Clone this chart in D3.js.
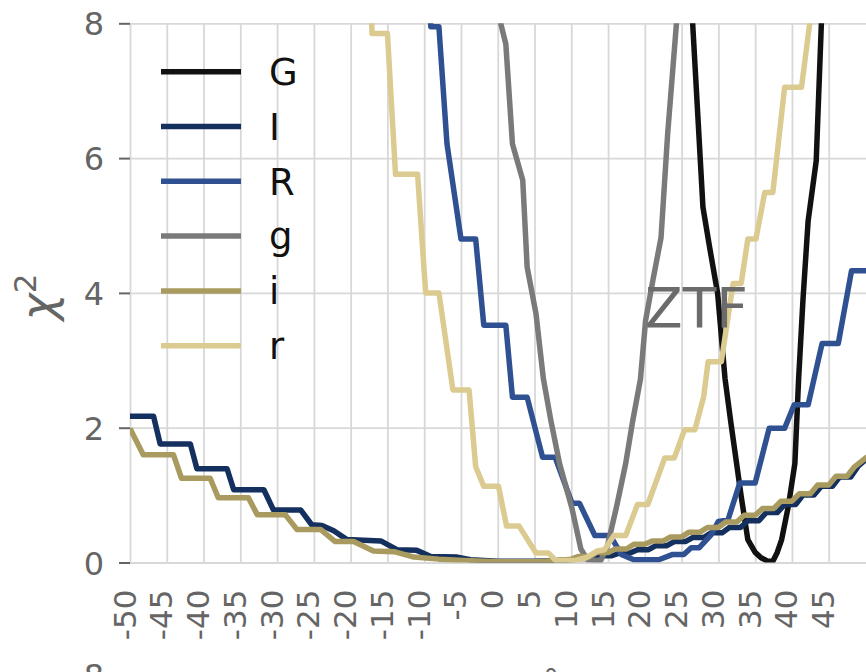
<!DOCTYPE html>
<html>
<head>
<meta charset="utf-8">
<script src="https://cdn.jsdelivr.net/npm/d3@7"></script>
<style>
  body { margin: 0; background: #fff; }
  svg text { font-family: 'DejaVu Sans', sans-serif; }
</style>
</head>
<body>
<div id="chart"></div>
<script>
var bands = ['G', 'I', 'R', 'g', 'i', 'r'],
    colors = ['#111111', '#14305e', '#2f5191', '#7a7a7a', '#a99b5f', '#dccb91'],
    xTicks = [-50, -45, -40, -35, -30, -25, -20, -15, -10, -5, 0, 5, 10, 15, 20, 25, 30, 35, 40, 45],
    yTicks = [0, 2, 4, 6, 8];

// chi^2 curves (x, chi2) per band
var x_G = [26.0, 26.5, 27.9, 28.8, 29.9, 30.9, 31.7, 33.1, 34.0, 35.0, 35.8, 36.7, 37.4, 38.0, 38.6, 39.5, 40.4, 40.9, 41.5, 42.2, 43.3, 44.0, 44.3],
    chi_G = [9.0, 8.0, 5.27, 4.68, 3.99, 2.73, 2.07, 0.98, 0.34, 0.15, 0.07, 0.02, 0.02, 0.15, 0.34, 0.83, 1.47, 2.71, 3.9, 5.07, 5.96, 8.0, 8.9];

var x_I = [-50, -46.8, -45.9, -41.8, -40.9, -36.8, -35.9, -31.8, -30.5, -26.8, -25.3, -23.9, -22.3, -20.5, -15.9, -13.7, -11.0, -9.1, -5.5, -3.7, 0, 5, 8, 10, 11.5, 13, 14, 15.5, 16.5, 18, 19, 20.5, 21.5, 23, 24, 25.5, 26.5, 28, 29, 30.5, 31.5, 33, 34, 35.5, 36.5, 38, 39, 40.5, 41.5, 43, 44, 45.5, 46.5, 48, 49, 50.3, 51],
    chi_I = [2.17, 2.17, 1.76, 1.76, 1.39, 1.39, 1.08, 1.08, 0.78, 0.78, 0.56, 0.55, 0.47, 0.34, 0.32, 0.19, 0.18, 0.09, 0.08, 0.04, 0.02, 0.02, 0.03, 0.04, 0.06, 0.06, 0.10, 0.10, 0.14, 0.14, 0.19, 0.19, 0.25, 0.25, 0.31, 0.31, 0.37, 0.37, 0.44, 0.44, 0.52, 0.52, 0.62, 0.62, 0.74, 0.74, 0.86, 0.86, 1.00, 1.00, 1.13, 1.13, 1.27, 1.27, 1.43, 1.55, 1.62];

var x_R = [-9.6, -9.1, -8.0, -6.9, -5.0, -3.0, -1.9, 1.1, 2.0, 4.0, 6.1, 7.8, 10.1, 11.1, 13.2, 15.3, 16.8, 18.5, 21.9, 23.8, 25.3, 26.3, 27.4, 29.0, 30.0, 31.3, 32.9, 35.0, 36.9, 39.0, 40.3, 42.2, 44.1, 46.3, 48.1, 51],
    chi_R = [9.5, 7.95, 7.95, 6.21, 4.80, 4.80, 3.52, 3.52, 2.45, 2.45, 1.56, 1.56, 0.88, 0.88, 0.40, 0.40, 0.12, 0.04, 0.04, 0.12, 0.12, 0.22, 0.22, 0.41, 0.61, 0.63, 1.18, 1.18, 1.99, 1.99, 2.34, 2.34, 3.25, 3.25, 4.33, 4.33];

var x_g = [-0.2, 0.4, 1.1, 2.0, 3.4, 4.0, 5.2, 6.2, 7.2, 8.4, 10.1, 11.3, 12.2, 14.0, 14.9, 16.2, 17.4, 18.3, 19.4, 20.1, 21.1, 22.2, 23.1, 24.3, 24.7],
    chi_g = [9.5, 8.0, 7.69, 6.21, 5.67, 4.38, 3.69, 2.73, 2.12, 1.47, 0.80, 0.20, 0.04, 0.03, 0.24, 0.85, 1.47, 2.07, 2.72, 3.59, 4.19, 4.82, 6.36, 8.0, 8.7];

var x_i = [-50, -48.2, -44.1, -43.0, -39.1, -38.0, -33.9, -32.7, -28.9, -27.3, -24.1, -22.1, -19.6, -16.9, -14.1, -11.4, -8, -4.6, 0, 5, 8, 10, 11, 12.5, 13.5, 15, 16, 17.5, 18.5, 20, 21, 22.5, 23.5, 25, 26, 27.5, 28.5, 30, 31, 32.5, 33.5, 35, 36, 37.5, 38.5, 40, 41, 42.5, 43.5, 45, 46, 47.5, 48.5, 50, 51],
    chi_i = [1.99, 1.60, 1.60, 1.25, 1.25, 0.96, 0.96, 0.71, 0.71, 0.49, 0.49, 0.31, 0.31, 0.17, 0.16, 0.08, 0.05, 0.03, 0.01, 0.01, 0.03, 0.05, 0.09, 0.09, 0.15, 0.15, 0.20, 0.20, 0.27, 0.27, 0.32, 0.32, 0.38, 0.38, 0.45, 0.45, 0.52, 0.52, 0.60, 0.60, 0.70, 0.70, 0.80, 0.80, 0.91, 0.91, 1.02, 1.02, 1.15, 1.15, 1.28, 1.28, 1.42, 1.55, 1.62];

var x_r = [-17.6, -17.1, -15.0, -13.9, -10.9, -9.8, -8.0, -6.1, -3.9, -3.0, -1.9, 0.1, 1.2, 2.9, 5.2, 6.9, 7.9, 10.6, 12.0, 13.5, 14.5, 15.8, 17.4, 19.0, 20.4, 22.7, 24.0, 25.4, 26.8, 28.0, 28.6, 30.4, 32.0, 33.1, 34.0, 35.1, 36.3, 37.4, 39.0, 41.3, 42.4, 42.8],
    chi_r = [9.5, 7.85, 7.85, 5.76, 5.76, 4.00, 4.00, 2.56, 2.56, 1.42, 1.13, 1.13, 0.54, 0.54, 0.14, 0.14, 0.03, 0.03, 0.07, 0.17, 0.19, 0.40, 0.40, 0.86, 0.86, 1.55, 1.55, 1.97, 1.97, 2.46, 2.98, 2.98, 4.14, 4.14, 4.80, 4.80, 5.49, 5.49, 7.05, 7.05, 7.99, 8.6];

var curves = [
  d3.zip(x_G, chi_G), d3.zip(x_I, chi_I), d3.zip(x_R, chi_R),
  d3.zip(x_g, chi_g), d3.zip(x_i, chi_i), d3.zip(x_r, chi_r)
];

var width = 866,
    height = 672,
    plotLeft = 130,
    plotTop = 23.3,
    plotBottom = 562.5,
    tickGrey = '#656565',
    gridGrey = '#d8d8d8',
    fontName = 'DejaVu Sans',
    svg, x, y, line;

x = d3.scaleLinear().domain([-50, 50]).range([plotLeft, 865.5]);
y = d3.scaleLinear().domain([0, 8]).range([plotBottom, plotTop]);

svg = d3.select('#chart').append('svg')
  .attr('width', width)
  .attr('height', height)
  .attr('font-family', fontName);

svg.append('defs').append('clipPath').attr('id', 'plotArea')
  .append('rect')
  .attr('x', plotLeft)
  .attr('y', plotTop)
  .attr('width', width - plotLeft)
  .attr('height', plotBottom - plotTop);

// vertical grid + rotated x labels
var xAxis = svg.append('g')
  .attr('transform', 'translate(0,' + plotBottom + ')')
  .call(d3.axisBottom(x).tickValues(xTicks)
    .tickSizeInner(-(plotBottom - plotTop)).tickSizeOuter(0)
    .tickFormat(function (d) { return String(d); }))
  .attr('font-family', fontName);
xAxis.select('.domain').remove();
xAxis.selectAll('line').attr('stroke', gridGrey).attr('stroke-width', 1.8);
xAxis.selectAll('text')
  .attr('x', 0).attr('y', 0).attr('dy', null)
  .attr('text-anchor', 'end')
  .attr('transform', 'translate(5,27) rotate(-90)')
  .attr('fill', tickGrey)
  .style('font-size', '31px');

// horizontal grid
var yGrid = svg.append('g')
  .attr('transform', 'translate(' + plotLeft + ',0)')
  .call(d3.axisLeft(y).tickValues(yTicks).tickSizeInner(-(width - plotLeft)).tickSizeOuter(0).tickFormat(''));
yGrid.select('.domain').remove();
yGrid.selectAll('line').attr('stroke', gridGrey).attr('stroke-width', 1.8);

// y ticks and labels
var yAxis = svg.append('g')
  .attr('transform', 'translate(' + plotLeft + ',0)')
  .call(d3.axisLeft(y).tickValues(yTicks).tickSizeInner(11).tickSizeOuter(0).tickPadding(15))
  .attr('font-family', fontName);
yAxis.select('.domain').remove();
yAxis.selectAll('line').attr('stroke', tickGrey).attr('stroke-width', 2);
yAxis.selectAll('text')
  .attr('fill', tickGrey)
  .attr('dy', '0.36em')
  .style('font-size', '32px');

// y label
var yLabel = svg.append('text')
  .attr('transform', 'translate(54,297) rotate(-90)')
  .attr('text-anchor', 'middle')
  .attr('fill', tickGrey)
  .style('font-size', '46px');
yLabel.append('tspan').style('font-style', 'italic').text('χ');
yLabel.append('tspan').attr('dy', -18).style('font-size', '31px').text('2');

// curves
line = d3.line()
  .x(function (d) { return x(d[0]); })
  .y(function (d) { return y(d[1]); });

svg.append('g')
  .attr('clip-path', 'url(#plotArea)')
  .selectAll('path')
  .data(curves)
  .enter()
  .append('path')
  .attr('d', line)
  .attr('fill', 'none')
  .attr('stroke', function (d, i) { return colors[i]; })
  .attr('stroke-width', 5.5)
  .attr('stroke-linejoin', 'round');

// legend
var legend = svg.append('g').selectAll('g')
  .data(bands)
  .enter()
  .append('g')
  .attr('transform', function (d, i) { return 'translate(0,' + (71.7 + i * 54.8) + ')'; });
legend.append('line')
  .attr('x1', 161).attr('x2', 241)
  .attr('stroke', function (d, i) { return colors[i]; })
  .attr('stroke-width', 5.5);
legend.append('text')
  .attr('x', 269)
  .attr('dy', '0.36em')
  .attr('fill', '#111')
  .style('font-size', '37px')
  .text(function (d) { return d; });

// survey tag
svg.append('text')
  .attr('x', 645)
  .attr('y', 327)
  .attr('fill', '#6b6b6b')
  .style('font-size', '55px')
  .text('ZTF');

// tops of the next panel, cut by the frame
svg.append('text')
  .attr('x', 104).attr('y', 675).attr('dy', '0.36em')
  .attr('text-anchor', 'end')
  .attr('fill', tickGrey)
  .style('font-size', '32px')
  .text('8');
svg.append('text')
  .attr('x', 551).attr('y', 690)
  .attr('text-anchor', 'middle')
  .attr('fill', tickGrey)
  .style('font-size', '30px')
  .text('°');
</script>
</body>
</html>
